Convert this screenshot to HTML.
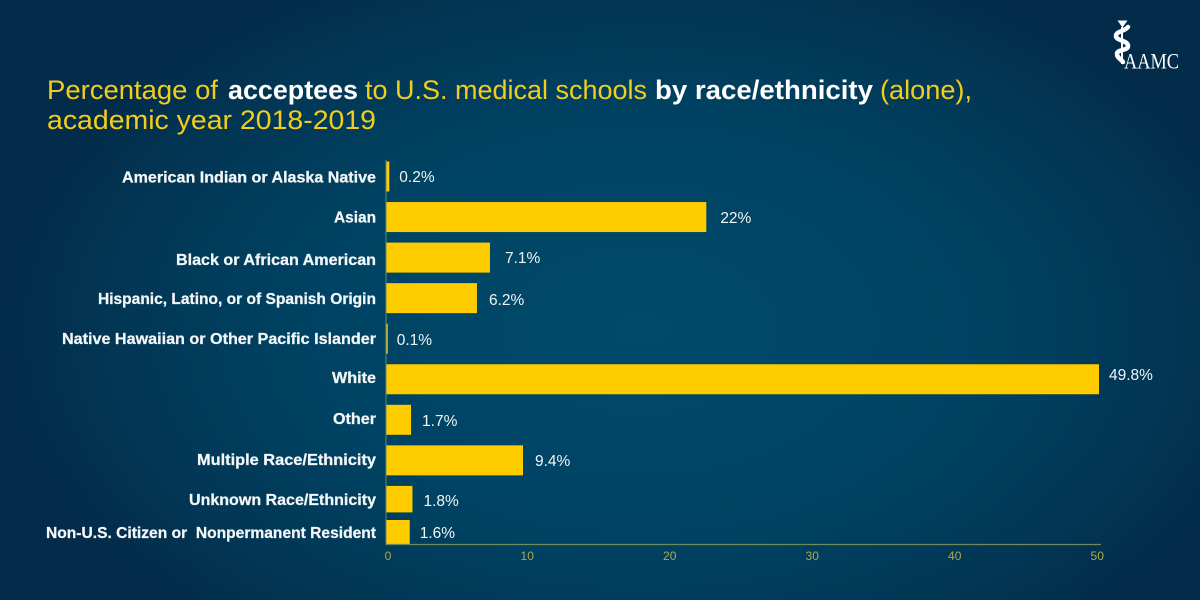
<!DOCTYPE html>
<html lang="en">
<head>
<meta charset="utf-8">
<title>Percentage of acceptees to U.S. medical schools by race/ethnicity</title>
<style>
html,body{margin:0;padding:0;width:1200px;height:600px;overflow:hidden;background:#02304f}
svg{display:block}
text{font-family:"Liberation Sans",Arial,sans-serif}
.title{font-size:27px;fill:#f2cd1c}
.title-strong{font-size:27px;fill:#ffffff;font-weight:700}
.cat{font-size:15.5px;font-weight:700;fill:#f4f7f8;stroke:#f4f7f8;stroke-width:.25px;text-anchor:end}
.val{font-size:15.5px;fill:#f2f6f7}
.tick{font-size:12px;fill:#aaa94e;text-anchor:middle}
</style>
</head>
<body>
<svg id="chart" xmlns="http://www.w3.org/2000/svg" width="1200" height="600" viewBox="0 0 1200 600">
  <defs>
    <radialGradient id="bg" gradientUnits="userSpaceOnUse" cx="640" cy="330" r="640" gradientTransform="translate(0 125) scale(1 .62)">
      <stop offset="0" stop-color="#004a6a"/>
      <stop offset=".5" stop-color="#004364"/>
      <stop offset=".85" stop-color="#023553"/>
      <stop offset="1" stop-color="#022c4a"/>
    </radialGradient>
  </defs>
  <rect width="1200" height="600" fill="url(#bg)"/>

  <g>
    <path d="M1117.5 20.5h10l-5 7z" fill="#fff"/>
    <path d="M1128 27 C1124 32 1116 31 1116 36 C1116 41 1128 40 1128 46 C1128 51 1117 49 1117 54 C1117 58 1121 59 1123 62" fill="none" stroke="#fff" stroke-width="4.5" stroke-linecap="round"/>
    <path d="M1122 27 L1122 64" stroke="#fff" stroke-width="2"/>
    <text x="1124" y="68.5" font-size="22" fill="#fff" textLength="55" lengthAdjust="spacingAndGlyphs" style="font-family:'Liberation Serif',serif">AAMC</text>
  </g>

  <g>
    <text class="title" x="47" y="99" textLength="171" lengthAdjust="spacingAndGlyphs">Percentage of</text>
    <text class="title-strong" x="228" y="99" textLength="130" lengthAdjust="spacingAndGlyphs">acceptees</text>
    <text class="title" x="365" y="99" textLength="282" lengthAdjust="spacingAndGlyphs">to U.S. medical schools</text>
    <text class="title-strong" x="655" y="99" textLength="218" lengthAdjust="spacingAndGlyphs">by race/ethnicity</text>
    <text class="title" x="880" y="99" textLength="92" lengthAdjust="spacingAndGlyphs">(alone),</text>
    <text class="title" x="47" y="129" textLength="329" lengthAdjust="spacingAndGlyphs">academic year 2018-2019</text>
  </g>
  <g id="plot"></g>
</svg>
<script>
const categories = [
  "American Indian or Alaska Native",
  "Asian",
  "Black or African American",
  "Hispanic, Latino, or of Spanish Origin",
  "Native Hawaiian or Other Pacific Islander",
  "White",
  "Other",
  "Multiple Race/Ethnicity",
  "Unknown Race/Ethnicity",
  "Non-U.S. Citizen or \u00a0Nonpermanent Resident"
];
const values = [0.23, 22.4, 7.27, 6.36, 0.12, 49.86, 1.75, 9.58, 1.85, 1.66];
const printedValues = ["0.2%", "22%", "7.1%", "6.2%", "0.1%", "49.8%", "1.7%", "9.4%", "1.8%", "1.6%"];
const tickValues = [0, 10, 20, 30, 40, 50];
const tickLabels = ["0", "10", "20", "30", "40", "50"];

const plot = document.getElementById('plot');
const NS = 'http://www.w3.org/2000/svg';
function xScale(v) { return 386 + v * 14.3; }
function tickX(v) { return v === 0 ? 388 : 384.7 + v * 14.25; }
function bandTop(i) { return i === 9 ? 520 : 161.5 + i * 40.55; }
function bandHeight(i) { return i === 9 ? 24 : (i === 8 ? 26.5 : 30); }
function catBaseline(i) { return i === 9 ? 538 : [182.5,222.5,265,304,344,383,424,465,505][i]; }
function catWidth(i) { return [254,42,200,278,314,44,43,179,187,330][i]; }
function valBaseline(i) { return [182,223,263,305,345,380,426,466,506,538][i]; }
function valGap(i) { return [10,14,15,12,9,10,11,12,11,10][i]; }
function make(tag, attrs, text) {
  const el = document.createElementNS(NS, tag);
  for (const k in attrs) el.setAttribute(k, attrs[k]);
  if (text !== undefined) el.textContent = text;
  plot.appendChild(el);
  return el;
}

categories.forEach(function (c, i) {
  const bar = make('rect', { x: xScale(0), y: bandTop(i), width: xScale(values[i]) - xScale(0), height: bandHeight(i), fill: '#ffcc00' });
  
  

  const cat = make('text', { class: 'cat', x: 376, y: catBaseline(i), textLength: catWidth(i), lengthAdjust: 'spacingAndGlyphs' }, c);
  
  

  const val = make('text', { class: 'val', x: xScale(values[i]) + valGap(i), y: valBaseline(i) }, printedValues[i]);
  
  
});

const yAxis = make('line', { x1: xScale(0), x2: xScale(0), y1: 160, y2: 545, stroke: '#6b8a6a', 'stroke-width': 1 });



const xAxis = make('line', { x1: xScale(0), x2: xScale(50), y1: 544.5, y2: 544.5, stroke: '#6f8a5e', 'stroke-width': 1.2 });



tickValues.forEach(function (t, i) {
  const lab = make('text', { class: 'tick', x: tickX(t), y: 560 }, tickLabels[i]);
  
  
});
</script>
</body>
</html>
